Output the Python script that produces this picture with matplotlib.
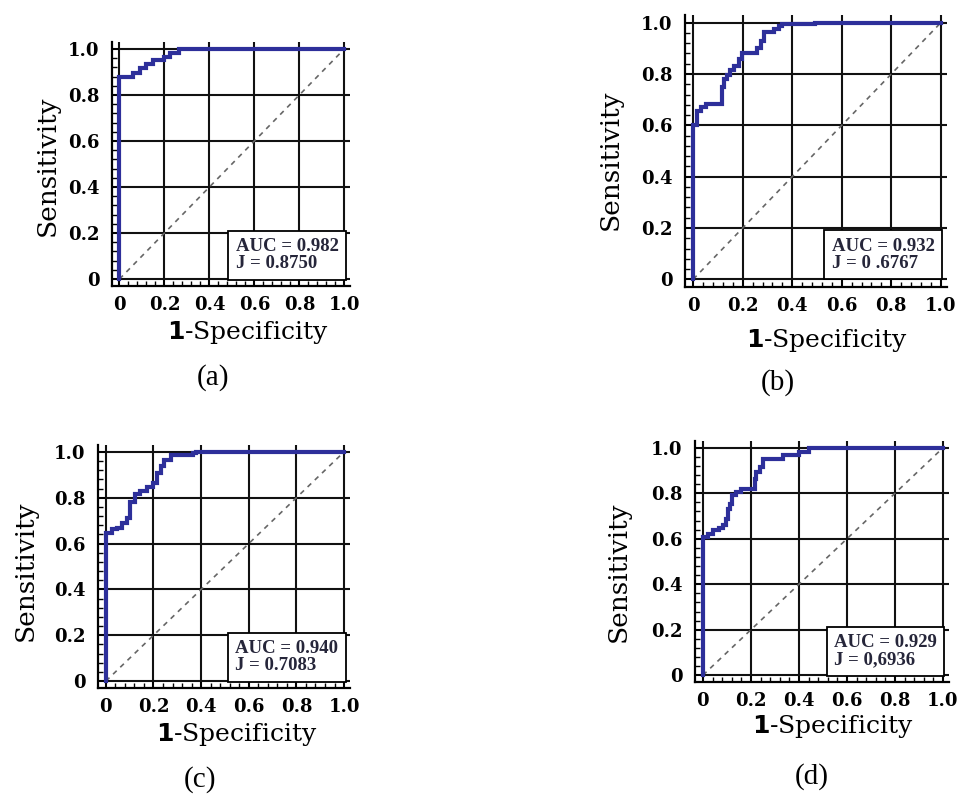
import matplotlib
matplotlib.use("Agg")
import matplotlib.pyplot as plt
from matplotlib.ticker import AutoMinorLocator

# ROC corner points (1-specificity, sensitivity)
a_fpr = [0, 0, 0.06, 0.09, 0.12, 0.15, 0.20, 0.225, 0.265, 1.0]
a_tpr = [0, 0.878, 0.896, 0.915, 0.935, 0.952, 0.965, 0.983, 1.0, 1.0]

b_fpr = [0, 0, 0.016, 0.03, 0.05, 0.117, 0.126, 0.137, 0.15, 0.164, 0.184,
         0.197, 0.258, 0.272, 0.285, 0.325, 0.345, 0.358, 0.493, 1.0]
b_tpr = [0, 0.60, 0.656, 0.673, 0.682, 0.75, 0.78, 0.795, 0.816, 0.83, 0.857,
         0.883, 0.903, 0.929, 0.964, 0.974, 0.987, 0.995, 1.0, 1.0]

c_fpr = [0, 0, 0.024, 0.045, 0.066, 0.087, 0.10, 0.123, 0.145, 0.172, 0.197,
         0.215, 0.23, 0.245, 0.275, 0.365, 0.38, 1.0]
c_tpr = [0, 0.647, 0.662, 0.67, 0.69, 0.713, 0.78, 0.815, 0.83, 0.845, 0.865,
         0.91, 0.94, 0.965, 0.985, 0.993, 1.0, 1.0]

d_fpr = [0, 0, 0.021, 0.042, 0.069, 0.083, 0.097, 0.104, 0.111, 0.122, 0.139,
         0.16, 0.215, 0.222, 0.236, 0.25, 0.333, 0.40, 0.44, 1.0]
d_tpr = [0, 0.607, 0.622, 0.637, 0.647, 0.662, 0.688, 0.732, 0.754, 0.791, 0.806,
         0.82, 0.865, 0.894, 0.916, 0.953, 0.968, 0.982, 1.0, 1.0]

auc_text = ["AUC = 0.982\nJ = 0.8750", "AUC = 0.932\nJ = 0 .6767",
            "AUC = 0.940\nJ = 0.7083", "AUC = 0.929\nJ = 0,6936"]
captions = ["(a)", "(b)", "(c)", "(d)"]
tick_vals = [0, 0.2, 0.4, 0.6, 0.8, 1.0]
tick_labels = ["0", "0.2", "0.4", "0.6", "0.8", "1.0"]
diag = [0, 1]

W, H = 959, 794
fig = plt.figure(figsize=(W / 100, H / 100), dpi=100)

# axes boxes in pixels: left, top, right, bottom
boxes = [(112, 42, 350, 286), (685, 15, 947, 287),
         (98, 445, 350, 688), (695, 441, 949, 682)]
# ylabel x, ylabel y, xlabel x, xlabel y, caption x, caption y (pixels)
label_pos = [(47, 166, 248, 333, 213, 378),
             (610, 160, 827, 340, 778, 383),
             (25, 571, 237, 735, 200, 780),
             (618, 572, 833, 727, 812, 777)]

curves = [(a_fpr, a_tpr), (b_fpr, b_tpr), (c_fpr, c_tpr), (d_fpr, d_tpr)]
blue = "#2d2f9a"

for i, (fpr, tpr) in enumerate(curves):
    l, t, r, b = boxes[i]
    ax = fig.add_axes([l / W, 1 - b / H, (r - l) / W, (b - t) / H])
    ax.set_xlim(-0.033, 1.025)
    ax.set_ylim(-0.03, 1.03)

    ax.grid(True, color="#111111", lw=1.5)
    ax.set_axisbelow(True)
    ax.plot(diag, diag, ls=(0, (3, 3)), color="#666666", lw=1.2, zorder=2)
    ax.plot(fpr, tpr, drawstyle="steps-post", color=blue, lw=3, zorder=3,
            solid_joinstyle="miter")

    for s in ["top", "right"]:
        ax.spines[s].set_visible(False)
    for s in ["left", "bottom"]:
        ax.spines[s].set_linewidth(1.6)

    ax.set_xticks(tick_vals)
    ax.set_yticks(tick_vals)
    ax.set_xticklabels(tick_labels)
    ax.set_yticklabels(tick_labels)
    ax.xaxis.set_minor_locator(AutoMinorLocator(5))
    ax.yaxis.set_minor_locator(AutoMinorLocator(5))
    ax.tick_params(which="major", direction="in", length=5, width=1.2)
    ax.tick_params(which="minor", direction="in", length=3.5, width=1)
    ax.tick_params(axis="y", which="major", pad=9)
    ax.tick_params(axis="x", which="major", pad=7)
    for lab in ax.get_xticklabels() + ax.get_yticklabels():
        lab.set_family("DejaVu Serif")
        lab.set_fontweight("bold")
        lab.set_fontsize(13)

    ax.text(0.975, 0.03, auc_text[i], ha="right", va="bottom",
            multialignment="left", family="Liberation Serif", fontweight="bold",
            fontsize=13.5, color="#26263a", linespacing=1.0, zorder=5,
            bbox=dict(boxstyle="square,pad=0.4", fc="white", ec="black", lw=1.3))

    yx, yy, xx, xy, cx, cy = label_pos[i]
    fig.text(yx / W, 1 - yy / H, "Sensitivity", rotation=90, ha="center",
             va="center", family="DejaVu Serif", fontsize=19)
    fig.text(xx / W, 1 - xy / H, r"$\mathbf{1}$-Specificity", ha="center",
             va="center", family="DejaVu Serif", fontsize=18)
    fig.text(cx / W, 1 - cy / H, captions[i], ha="center", va="center",
             family="Liberation Serif", fontsize=21)

fig.savefig("out.png", dpi=100, facecolor="white")
